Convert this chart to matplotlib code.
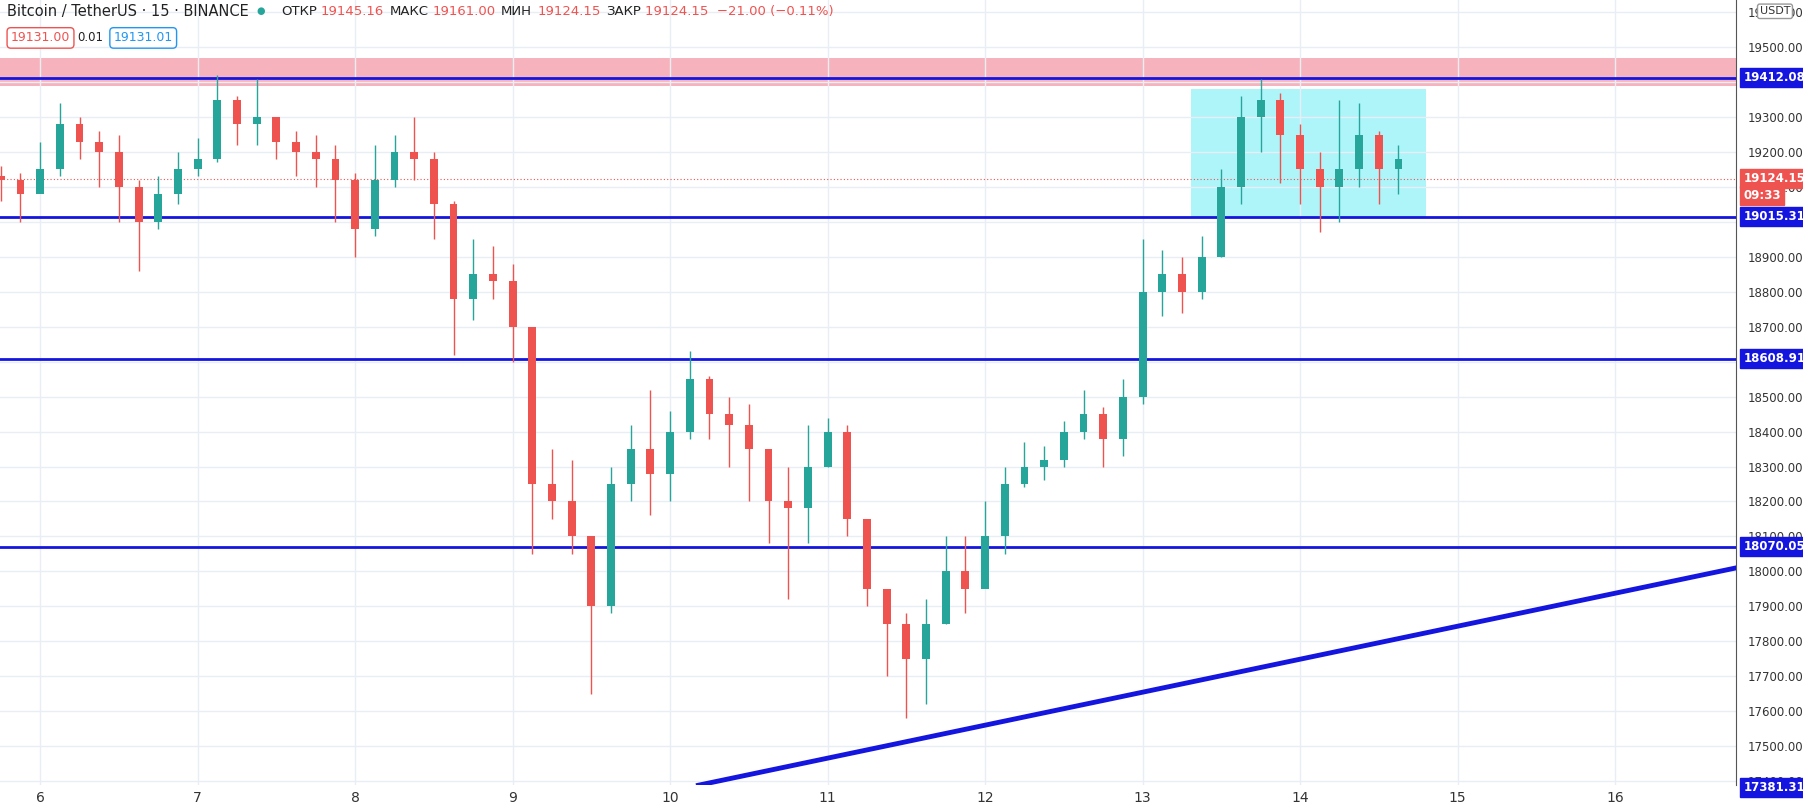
import matplotlib.pyplot as plt
from matplotlib.patches import Rectangle

times = [5.75 + 0.125*i for i in range(72)]
closes = [19120,19080,
 19150,19280,19230,19200,19100,19000,19080,19150,
 19180,19350,19280,19300,19230,19200,19180,19120,
 18980,19120,19200,19180,19050,18780,18850,18830,
 18700,18250,18200,18100,17900,18250,18350,18280,
 18400,18550,18450,18420,18350,18200,18180,18300,
 18400,18150,17950,17850,17750,17850,18000,17950,
 18100,18250,18300,18320,18400,18450,18380,18500,
 18800,18850,18800,18900,19100,19300,19350,19250,
 19150,19100,19150,19250,19150,19180,19124]
opens = [19130] + closes[:-1]
highs = [19160,19140,
 19230,19340,19300,19260,19250,19120,19130,19200,
 19240,19420,19360,19410,19300,19260,19250,19220,
 19140,19220,19250,19300,19200,19060,18950,18930,
 18880,18700,18350,18320,18100,18300,18420,18520,
 18460,18630,18560,18500,18480,18350,18300,18420,
 18440,18420,18050,17950,17880,17920,18100,18100,
 18200,18300,18370,18360,18430,18520,18470,18550,
 18950,18920,18900,18960,19150,19360,19410,19370,
 19280,19200,19350,19340,19260,19220,19190]
lows = [19060,19000,
 19100,19130,19180,19100,19000,18860,18980,19050,
 19130,19170,19220,19220,19180,19130,19100,19000,
 18900,18960,19100,19120,18950,18620,18720,18780,
 18600,18050,18150,18050,17650,17880,18200,18160,
 18200,18380,18380,18300,18200,18080,17920,18080,
 18300,18100,17900,17700,17580,17620,17850,17880,
 17960,18050,18240,18260,18300,18380,18300,18330,
 18480,18730,18740,18780,18900,19050,19200,19110,
 19050,18970,19000,19100,19050,19080,19080]

levels = [19412.08, 19015.31, 18608.91, 18070.05, 17381.31]
yticks = list(range(17400, 19700, 100))
xticks = [6,7,8,9,10,11,12,13,14,15,16]

blue = '#1515e0'
fig = plt.figure(figsize=(18.03, 8.07), dpi=100)
ax = fig.add_axes([0, 0.027, 0.963, 0.973])
x0, x1 = 5.745, 16.77
y0, y1 = 17388, 19635
ax.set_xlim(x0, x1); ax.set_ylim(y0, y1)

ax.add_patch(Rectangle((x0, 19388), x1-x0, 80, color='#f7b3bd', zorder=1, lw=0))
ax.add_patch(Rectangle((13.31, 19015), 14.80-13.31, 365, color='#aef5fa', zorder=1, lw=0))
for lv in levels:
    ax.axhline(lv, color=blue, lw=2, zorder=3)
ax.plot([10.18, 16.77], [17388, 18010], color=blue, lw=3.5, zorder=3)
ax.axhline(19124.15, color='#ef5350', lw=0.8, ls=(0, (1, 2)), zorder=2)

w = 0.125*0.4
for t, o, h, l, c in zip(times, opens, highs, lows, closes):
    col = '#26a69a' if c >= o else '#ef5350'
    ax.vlines(t, l, h, color=col, lw=1, zorder=4)
    ax.add_patch(Rectangle((t-w/2, min(o, c)), w, max(abs(c-o), 3), color=col, zorder=4, lw=0))

ax.set_xticks(xticks); ax.set_yticks(yticks)
ax.grid(True, color='#e9eef5', lw=1, zorder=0)
ax.tick_params(axis='x', length=0, labelsize=10, colors='#333333', pad=4)
ax.yaxis.tick_right()
ax.tick_params(axis='y', length=0, labelsize=8.5, colors='#333333', pad=8)
ax.set_yticklabels([f'{v:.2f}' for v in yticks])
for s in ['top', 'left', 'bottom']:
    ax.spines[s].set_visible(False)
ax.spines['right'].set_color('#555555')

def tag(y, text, bg):
    ax.text(1.004, y, text, transform=ax.get_yaxis_transform(), va='center', ha='left',
            fontsize=8.5, color='white', fontweight='bold',
            bbox=dict(boxstyle='square,pad=0.25', fc=bg, ec=bg), zorder=10, clip_on=False)
for lv in levels:
    tag(lv, f'{lv:.2f}', blue)
tag(19124.15, '19124.15', '#ef5350')
tag(19075, '09:33', '#ef5350')

fs = 9.5
fig.text(0.004, 0.986, 'Bitcoin / TetherUS · 15 · BINANCE', fontsize=10.5, color='#222222', va='center')
fig.text(0.142, 0.986, '●', fontsize=7, color='#26a69a', va='center')
fig.text(0.156, 0.986, 'ОТКР', fontsize=fs, color='#222222', va='center')
fig.text(0.178, 0.986, '19145.16', fontsize=fs, color='#ef5350', va='center')
fig.text(0.216, 0.986, 'МАКС', fontsize=fs, color='#222222', va='center')
fig.text(0.240, 0.986, '19161.00', fontsize=fs, color='#ef5350', va='center')
fig.text(0.278, 0.986, 'МИН', fontsize=fs, color='#222222', va='center')
fig.text(0.298, 0.986, '19124.15', fontsize=fs, color='#ef5350', va='center')
fig.text(0.336, 0.986, 'ЗАКР', fontsize=fs, color='#222222', va='center')
fig.text(0.358, 0.986, '19124.15  −21.00 (−0.11%)', fontsize=fs, color='#ef5350', va='center')
fig.text(0.006, 0.953, '19131.00', fontsize=9, color='#ef5350', va='center',
         bbox=dict(boxstyle='round,pad=0.3', fc='white', ec='#ef5350'))
fig.text(0.043, 0.953, '0.01', fontsize=8.5, color='#222222', va='center')
fig.text(0.063, 0.953, '19131.01', fontsize=9, color='#2196f3', va='center',
         bbox=dict(boxstyle='round,pad=0.3', fc='white', ec='#2196f3'))
fig.text(0.976, 0.986, 'USDT', fontsize=8, color='#333333', va='center',
         bbox=dict(boxstyle='round,pad=0.2', fc='white', ec='#999999'))
fig.savefig('out.png', dpi=100, facecolor='white')
